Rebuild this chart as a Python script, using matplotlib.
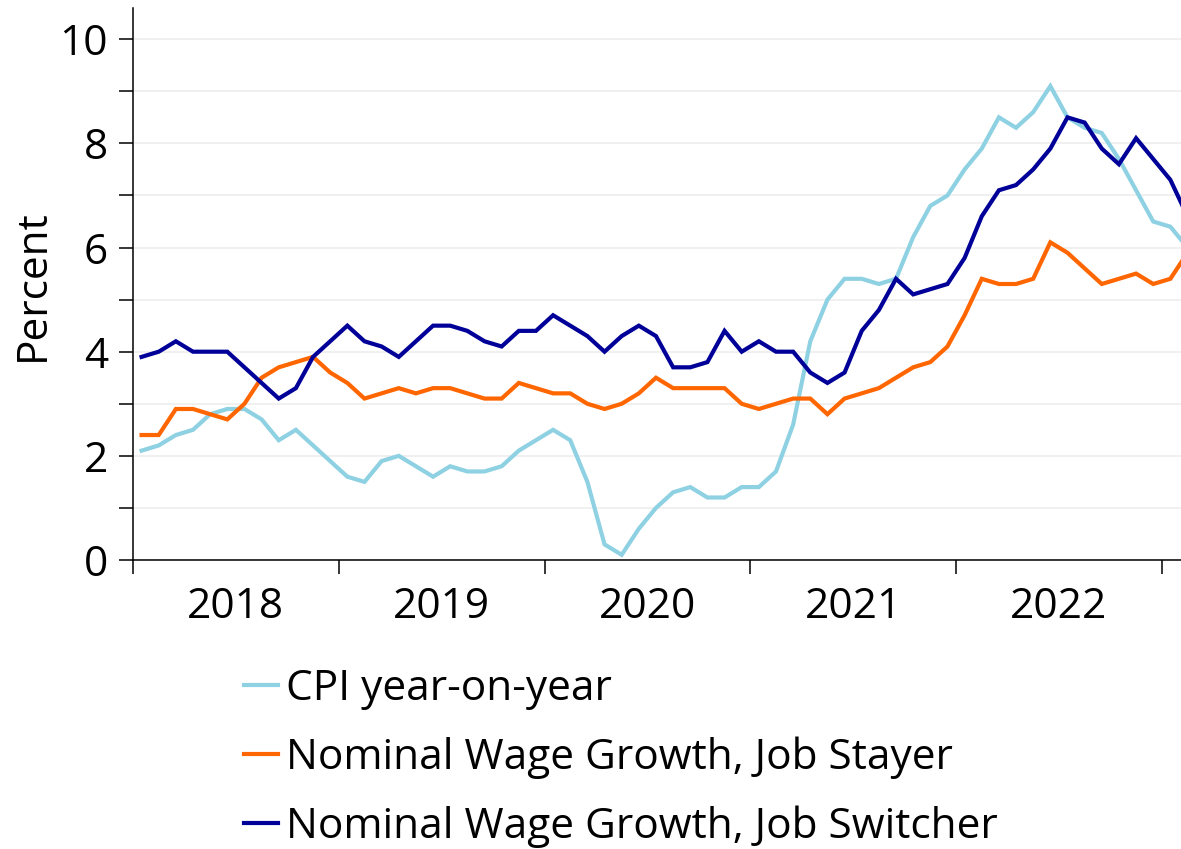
import matplotlib
matplotlib.use("Agg")
import matplotlib.pyplot as plt
import numpy as np

# monthly, Jan 2018 .. Feb 2023
cpi = [2.1, 2.2, 2.4, 2.5, 2.8, 2.9, 2.9, 2.7, 2.3, 2.5, 2.2, 1.9,
       1.6, 1.5, 1.9, 2.0, 1.8, 1.6, 1.8, 1.7, 1.7, 1.8, 2.1, 2.3,
       2.5, 2.3, 1.5, 0.3, 0.1, 0.6, 1.0, 1.3, 1.4, 1.2, 1.2, 1.4,
       1.4, 1.7, 2.6, 4.2, 5.0, 5.4, 5.4, 5.3, 5.4, 6.2, 6.8, 7.0,
       7.5, 7.9, 8.5, 8.3, 8.6, 9.1, 8.5, 8.3, 8.2, 7.7, 7.1, 6.5,
       6.4, 6.0]
stayer = [2.4, 2.4, 2.9, 2.9, 2.8, 2.7, 3.0, 3.5, 3.7, 3.8, 3.9, 3.6,
          3.4, 3.1, 3.2, 3.3, 3.2, 3.3, 3.3, 3.2, 3.1, 3.1, 3.4, 3.3,
          3.2, 3.2, 3.0, 2.9, 3.0, 3.2, 3.5, 3.3, 3.3, 3.3, 3.3, 3.0,
          2.9, 3.0, 3.1, 3.1, 2.8, 3.1, 3.2, 3.3, 3.5, 3.7, 3.8, 4.1,
          4.7, 5.4, 5.3, 5.3, 5.4, 6.1, 5.9, 5.6, 5.3, 5.4, 5.5, 5.3,
          5.4, 5.9]
switcher = [3.9, 4.0, 4.2, 4.0, 4.0, 4.0, 3.7, 3.4, 3.1, 3.3, 3.9, 4.2,
            4.5, 4.2, 4.1, 3.9, 4.2, 4.5, 4.5, 4.4, 4.2, 4.1, 4.4, 4.4,
            4.7, 4.5, 4.3, 4.0, 4.3, 4.5, 4.3, 3.7, 3.7, 3.8, 4.4, 4.0,
            4.2, 4.0, 4.0, 3.6, 3.4, 3.6, 4.4, 4.8, 5.4, 5.1, 5.2, 5.3,
            5.8, 6.6, 7.1, 7.2, 7.5, 7.9, 8.5, 8.4, 7.9, 7.6, 8.1, 7.7,
            7.3, 6.6]
years = ["2018", "2019", "2020", "2021", "2022"]
labels = ["CPI year-on-year",
          "Nominal Wage Growth, Job Stayer",
          "Nominal Wage Growth, Job Switcher"]
colors = ["#8ed1e2", "#ff6600", "#000099"]

plt.rcParams["font.family"] = ["Open Sans", "DejaVu Sans"]
plt.rcParams["font.size"] = 30.5

fig = plt.figure(figsize=(11.81, 8.49), dpi=100)
ax = fig.add_axes([133 / 1181, 1 - 560 / 849, 1 - 133 / 1181, (560 - 8) / 849])

x = np.arange(len(cpi)) + 0.5
for series, lab, col in zip([cpi, stayer, switcher], labels, colors):
    ax.plot(x, series, color=col, lw=3.0, label=lab, solid_joinstyle="miter")

ax.set_xlim(0, 61.12)
ax.set_ylim(0, 10.6)

ax.set_yticks(np.arange(0, 11, 2))
ax.set_yticks(np.arange(1, 11, 2), minor=True)
ax.yaxis.grid(True, which="both", color="#efefef", lw=1.3)
ax.set_axisbelow(True)

ax.set_xticks(np.arange(0, 61, 12))
ax.set_xticklabels([])
ax.set_xticks(np.arange(6, 60, 12), minor=True)
ax.set_xticklabels(years, minor=True)
ax.tick_params(axis="x", which="minor", length=0, pad=19)
ax.tick_params(axis="x", which="major", length=10, width=1.1)
ax.tick_params(axis="y", which="both", length=10, width=1.1, pad=8)

for s in ["top", "right"]:
    ax.spines[s].set_visible(False)
for s in ["left", "bottom"]:
    ax.spines[s].set_linewidth(1.1)

fig.text(33 / 1181, 1 - 285 / 849, "Percent", rotation=90,
         ha="center", va="center")

fig.legend(loc="upper left", bbox_to_anchor=(244 / 1181, 1 - 668 / 849),
           frameon=False, borderpad=0, borderaxespad=0,
           handlelength=0.8, handletextpad=0.2, labelspacing=0.62)

fig.savefig("out.png", dpi=100)
